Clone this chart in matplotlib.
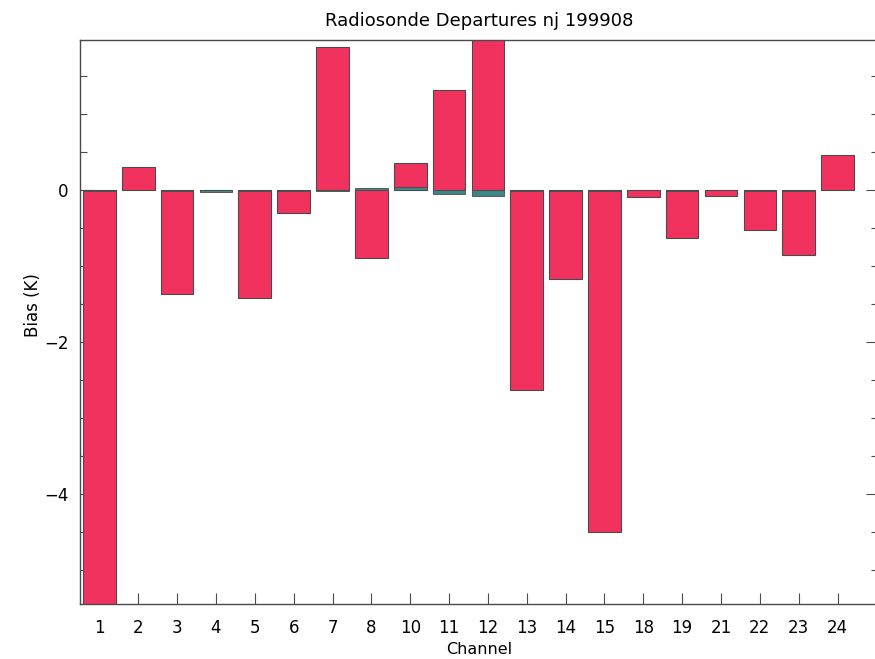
import matplotlib.pyplot as plt
import numpy as np

channels = ['1', '2', '3', '4', '5', '6', '7', '8', '10', '11', '12',
            '13', '14', '15', '18', '19', '21', '22', '23', '24']
bias = [-5.8, 0.30, -1.37, -0.01, -1.42, -0.30, 1.88, -0.89, 0.36, 1.32, 2.10,
        -2.64, -1.17, -4.50, -0.09, -0.63, -0.08, -0.53, -0.86, 0.46]
bias_corr = [-0.02, 0.0, -0.02, -0.03, -0.02, -0.01, -0.01, 0.03, 0.04, -0.06, -0.08,
             -0.02, -0.02, -0.02, 0.0, -0.01, 0.0, -0.01, -0.01, 0.0]

red = '#f2325e'
teal = '#3d8587'
edge = '#4a4a4a'

fig = plt.figure(figsize=(8.75, 6.59), dpi=100)
ax = fig.add_axes([0.0914, 0.0835, 0.912, 0.8555])

x = np.arange(1, len(channels) + 1)
ax.bar(x, bias, width=0.84, color=red, edgecolor=edge, linewidth=0.8, zorder=2)
ax.bar(x, bias_corr, width=0.84, color=teal, edgecolor=edge, linewidth=0.6, zorder=3)

ax.set_xlim(0.5, 21.04)
ax.set_ylim(-5.45, 1.97)

ax.set_xticks(x)
ax.set_xticklabels(channels, fontsize=12)
ax.set_yticks([-4, -2, 0])
ax.set_yticklabels(['\u22124', '\u22122', '0'], fontsize=12)
ax.set_yticks(np.arange(-5.0, 2.0, 0.5), minor=True)

ax.tick_params(axis='x', direction='in', length=8, width=0.8, color=edge, pad=11,
               top=False)
ax.tick_params(axis='y', which='major', direction='in', length=9, width=0.8, color=edge,
               left=True, right=True, pad=8)
ax.tick_params(axis='y', which='minor', direction='in', length=5, width=0.8, color=edge,
               left=True, right=True)
for s in ax.spines.values():
    s.set_color(edge)
    s.set_linewidth(1.0)

ax.set_xlabel('Channel', fontsize=11.5)
ax.xaxis.set_label_coords(0.5, -0.068)
ax.set_ylabel('Bias (K)', fontsize=12)
ax.yaxis.set_label_coords(-0.048, 0.53)
ax.set_title('Radiosonde Departures nj 199908', fontsize=13, pad=10)

fig.savefig('out.png', dpi=100)
